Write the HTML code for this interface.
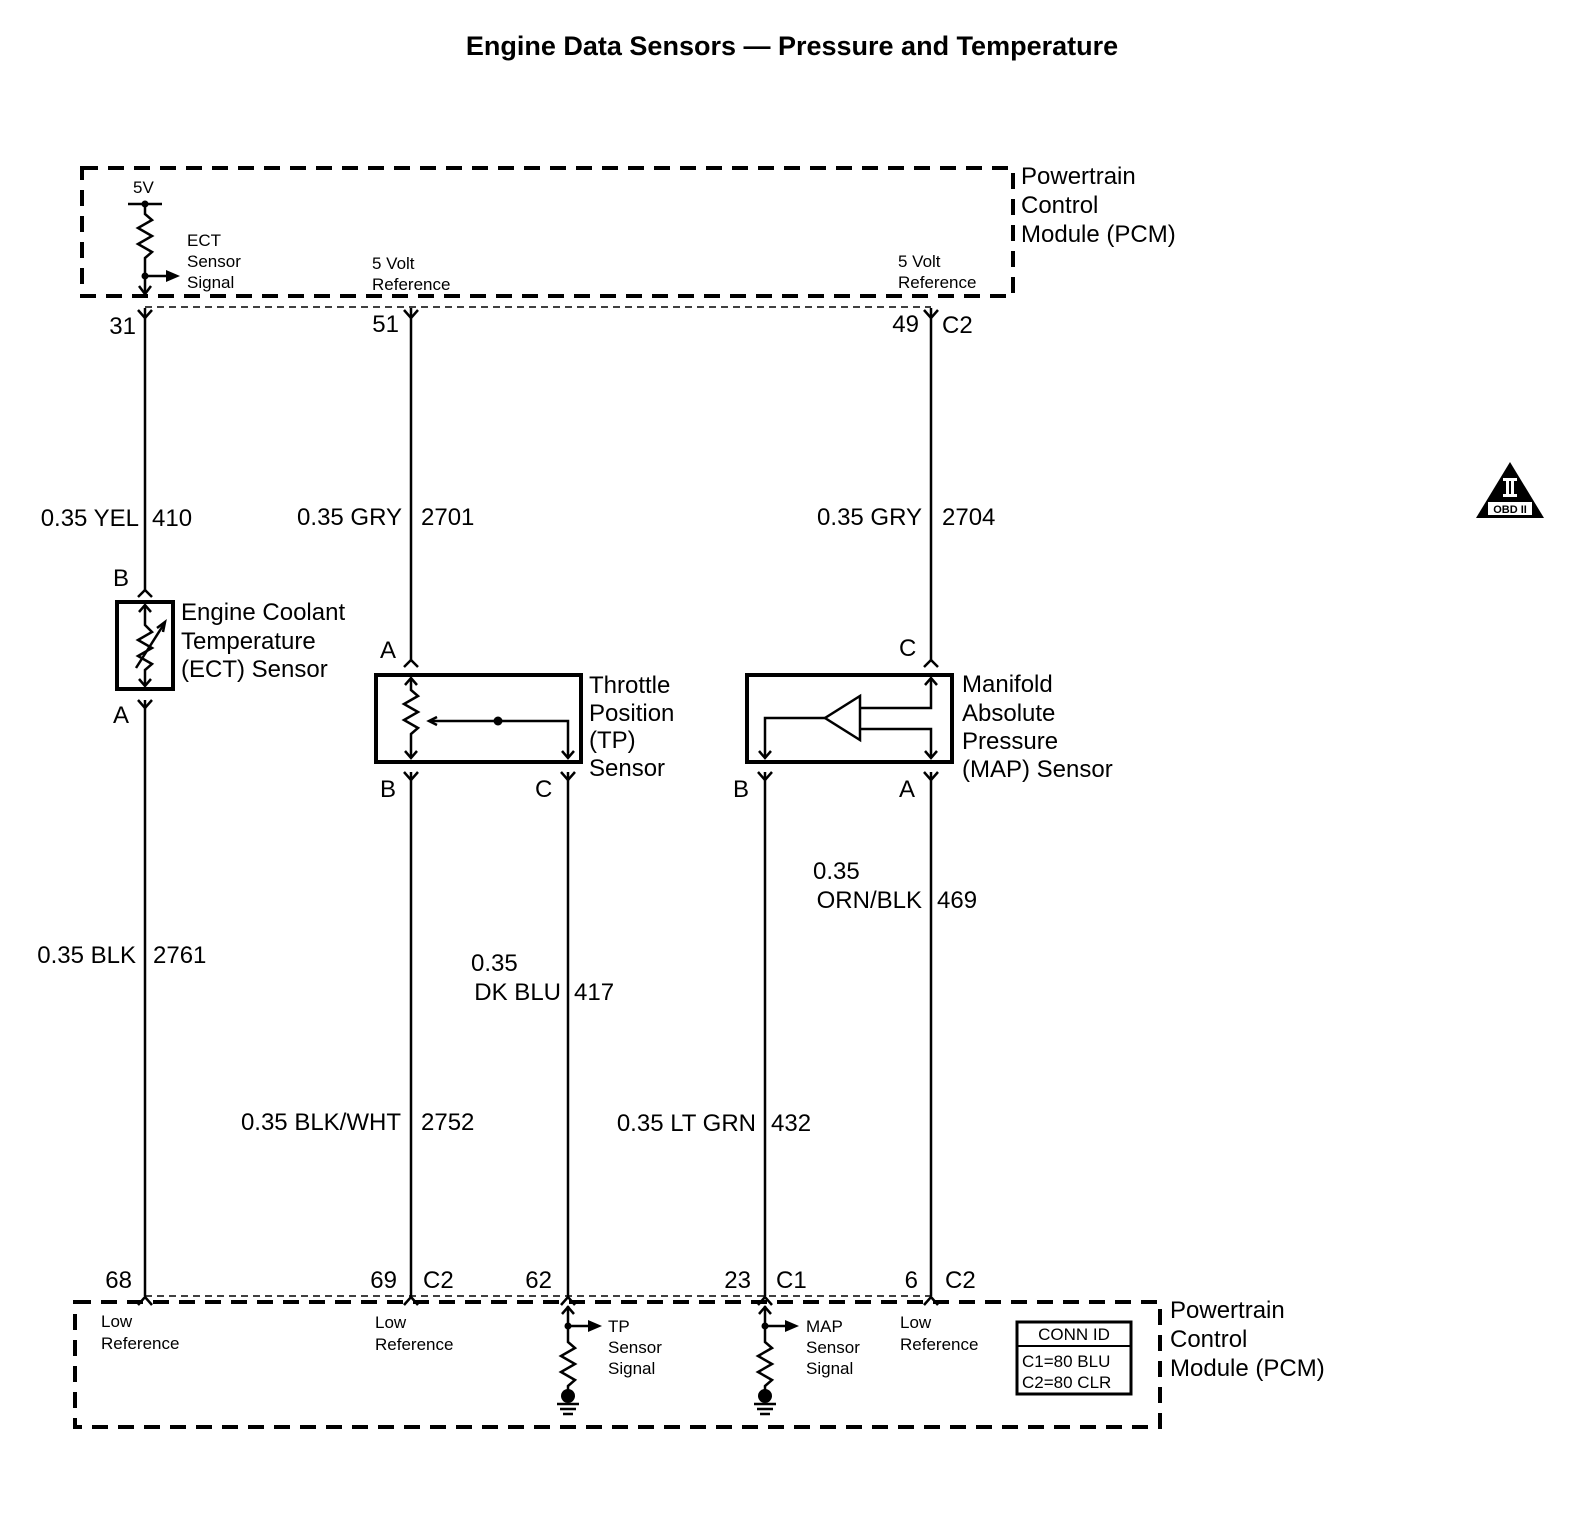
<!DOCTYPE html>
<html><head><meta charset="utf-8"><style>
html,body{margin:0;padding:0;background:#fff;}
svg{display:block;}
text{font-family:"Liberation Sans",Arial,sans-serif;fill:#000;}
.l{font-size:24px;}
.s{font-size:17px;}
</style></head><body>
<svg width="1584" height="1536" viewBox="0 0 1584 1536" xmlns="http://www.w3.org/2000/svg">
<text x="792" y="55" text-anchor="middle" style="font-size:27px;font-weight:bold">Engine Data Sensors — Pressure and Temperature</text>

<g fill="none" stroke="#000">
<rect x="82" y="168" width="931" height="128" stroke-width="4" stroke-dasharray="16,10"/>
<rect x="75" y="1302" width="1085" height="125" stroke-width="4" stroke-dasharray="16,10"/>
<line x1="145" y1="307" x2="931" y2="307" stroke-width="1.5" stroke-dasharray="7,5"/>
<line x1="145" y1="1296" x2="931" y2="1296" stroke-width="1.5" stroke-dasharray="7,5"/>

<g stroke-width="2.5">
<line x1="145" y1="308" x2="145" y2="590"/>
<line x1="145" y1="700" x2="145" y2="1296"/>
<line x1="411" y1="308" x2="411" y2="660"/>
<line x1="411" y1="772" x2="411" y2="1296"/>
<line x1="568" y1="772" x2="568" y2="1296"/>
<line x1="765" y1="772" x2="765" y2="1296"/>
<line x1="931" y1="308" x2="931" y2="660"/>
<line x1="931" y1="772" x2="931" y2="1296"/>
<path d="M138,310 L145,318 L152,310 M404,310 L411,318 L418,310 M924,310 L931,318 L938,310"/>
<path d="M138,1305 L145,1297 L152,1305 M404,1305 L411,1297 L418,1305 M561,1305 L568,1297 L575,1305 M758,1305 L765,1297 L772,1305 M924,1305 L931,1297 L938,1305"/>
<path d="M138,597 L145,590 L152,597 M404,667 L411,660 L418,667 M924,667 L931,660 L938,667"/>
<path d="M138,700 L145,708 L152,700 M404,772 L411,780 L418,772 M561,772 L568,780 L575,772 M758,772 L765,780 L772,772 M924,772 L931,780 L938,772"/>
</g>

<g stroke-width="2.5">
<line x1="128" y1="204" x2="162" y2="204"/>
<path d="M145,204 L145,214 L152,220 L138,228 L152,236 L138,244 L152,252 L145,258 L145,294"/>
<path d="M139,286 L145,294 L151,286"/>
<line x1="145" y1="276" x2="168" y2="276"/>
</g>
<polygon points="166,270 180,276 166,282" fill="#000" stroke="none"/>
<circle cx="145" cy="204" r="3.5" fill="#000" stroke="none"/>
<circle cx="145" cy="276" r="3.5" fill="#000" stroke="none"/>

<rect x="117" y="602" width="56" height="87" stroke-width="4"/>
<g stroke-width="2.5">
<path d="M145,605 L145,625 L152,632 L138,640 L152,648 L138,656 L152,664 L145,670 L145,686"/>
<path d="M139,612 L145,605 L151,612 M139,679 L145,686 L151,679"/>
<path d="M136,668 L164,624"/>
<path d="M157,628 L165,622 L163,632"/>
</g>

<rect x="376" y="675" width="205" height="87" stroke-width="4"/>
<g stroke-width="2.5">
<path d="M411,678 L411,690 L418,696 L404,704 L418,712 L404,720 L418,728 L411,734 L411,758"/>
<path d="M405,685 L411,678 L417,685 M405,751 L411,758 L417,751"/>
<path d="M430,721 L568,721 L568,758"/>
<path d="M562,751 L568,758 L574,751"/>
<path d="M437,717 L429,721 L437,725"/>
</g>
<circle cx="498" cy="721" r="4.5" fill="#000" stroke="none"/>

<rect x="747" y="675" width="205" height="87" stroke-width="4"/>
<g stroke-width="2.5">
<path d="M931,678 L931,708 L860,708"/>
<path d="M860,729 L931,729 L931,758"/>
<path d="M925,685 L931,678 L937,685 M925,751 L931,758 L937,751"/>
<polygon points="860,696 860,740 825,718"/>
<path d="M825,718 L765,718 L765,758"/>
<path d="M759,751 L765,758 L771,751"/>
</g>

<g stroke-width="2.5">
<path d="M568,1306 L568,1342 L575,1348 L561,1356 L575,1364 L561,1372 L575,1380 L568,1386 L568,1396"/>
<path d="M562,1314 L568,1307 L574,1314"/>
<line x1="568" y1="1326" x2="590" y2="1326"/>
<path d="M765,1306 L765,1342 L772,1348 L758,1356 L772,1364 L758,1372 L772,1380 L765,1386 L765,1396"/>
<path d="M759,1314 L765,1307 L771,1314"/>
<line x1="765" y1="1326" x2="787" y2="1326"/>
<path d="M557,1404 L579,1404 M560,1409 L576,1409 M563,1414 L573,1414"/>
<path d="M754,1404 L776,1404 M757,1409 L773,1409 M760,1414 L770,1414"/>
</g>
<rect x="1017" y="1322" width="114" height="72" stroke-width="3"/>
<line x1="1017" y1="1346" x2="1131" y2="1346" stroke-width="2"/>
</g>
<g fill="#000">
<polygon points="588,1320 602,1326 588,1332"/>
<polygon points="785,1320 799,1326 785,1332"/>
<circle cx="568" cy="1326" r="3.5"/><circle cx="765" cy="1326" r="3.5"/>
<circle cx="568" cy="1396" r="7"/><circle cx="765" cy="1396" r="7"/>
</g>

<polygon points="1510,462 1476,518 1544,518" fill="#000"/>
<rect x="1503" y="478" width="14" height="3" fill="#fff"/>
<rect x="1503" y="494" width="14" height="3" fill="#fff"/>
<rect x="1506" y="480" width="3" height="15" fill="#fff"/>
<rect x="1511" y="480" width="3" height="15" fill="#fff"/>
<rect x="1488" y="502" width="44" height="13" fill="#fff"/>
<text x="1510" y="513" text-anchor="middle" style="font-size:11px;font-weight:bold">OBD II</text>

<text class="s" x="133" y="193">5V</text>
<text class="s" x="187" y="246">ECT</text>
<text class="s" x="187" y="267">Sensor</text>
<text class="s" x="187" y="288">Signal</text>
<text class="s" x="372" y="269">5 Volt</text>
<text class="s" x="372" y="290">Reference</text>
<text class="s" x="898" y="267">5 Volt</text>
<text class="s" x="898" y="288">Reference</text>
<text class="l" x="1021" y="184">Powertrain</text>
<text class="l" x="1021" y="213">Control</text>
<text class="l" x="1021" y="242">Module (PCM)</text>

<text class="l" x="136" y="334" text-anchor="end">31</text>
<text class="l" x="399" y="332" text-anchor="end">51</text>
<text class="l" x="919" y="332" text-anchor="end">49</text>
<text class="l" x="942" y="333">C2</text>

<text class="l" x="139" y="526" text-anchor="end">0.35 YEL</text>
<text class="l" x="152" y="526">410</text>
<text class="l" x="402" y="525" text-anchor="end">0.35 GRY</text>
<text class="l" x="421" y="525">2701</text>
<text class="l" x="922" y="525" text-anchor="end">0.35 GRY</text>
<text class="l" x="942" y="525">2704</text>

<text class="l" x="113" y="586">B</text>
<text class="l" x="113" y="723">A</text>
<text class="l" x="181" y="620">Engine Coolant</text>
<text class="l" x="181" y="649">Temperature</text>
<text class="l" x="181" y="677">(ECT) Sensor</text>

<text class="l" x="380" y="658">A</text>
<text class="l" x="380" y="797">B</text>
<text class="l" x="535" y="797">C</text>
<text class="l" x="589" y="693">Throttle</text>
<text class="l" x="589" y="721">Position</text>
<text class="l" x="589" y="748">(TP)</text>
<text class="l" x="589" y="776">Sensor</text>

<text class="l" x="899" y="656">C</text>
<text class="l" x="733" y="797">B</text>
<text class="l" x="899" y="797">A</text>
<text class="l" x="962" y="692">Manifold</text>
<text class="l" x="962" y="721">Absolute</text>
<text class="l" x="962" y="749">Pressure</text>
<text class="l" x="962" y="777">(MAP) Sensor</text>

<text class="l" x="813" y="879">0.35</text>
<text class="l" x="922" y="908" text-anchor="end">ORN/BLK</text>
<text class="l" x="937" y="908">469</text>
<text class="l" x="136" y="963" text-anchor="end">0.35 BLK</text>
<text class="l" x="153" y="963">2761</text>
<text class="l" x="471" y="971">0.35</text>
<text class="l" x="561" y="1000" text-anchor="end">DK BLU</text>
<text class="l" x="574" y="1000">417</text>
<text class="l" x="401" y="1130" text-anchor="end">0.35 BLK/WHT</text>
<text class="l" x="421" y="1130">2752</text>
<text class="l" x="756" y="1131" text-anchor="end">0.35 LT GRN</text>
<text class="l" x="771" y="1131">432</text>

<text class="l" x="132" y="1288" text-anchor="end">68</text>
<text class="l" x="397" y="1288" text-anchor="end">69</text>
<text class="l" x="423" y="1288">C2</text>
<text class="l" x="552" y="1288" text-anchor="end">62</text>
<text class="l" x="751" y="1288" text-anchor="end">23</text>
<text class="l" x="776" y="1288">C1</text>
<text class="l" x="918" y="1288" text-anchor="end">6</text>
<text class="l" x="945" y="1288">C2</text>

<text class="s" x="101" y="1327">Low</text>
<text class="s" x="101" y="1349">Reference</text>
<text class="s" x="375" y="1328">Low</text>
<text class="s" x="375" y="1350">Reference</text>
<text class="s" x="900" y="1328">Low</text>
<text class="s" x="900" y="1350">Reference</text>
<text class="s" x="608" y="1332">TP</text>
<text class="s" x="608" y="1353">Sensor</text>
<text class="s" x="608" y="1374">Signal</text>
<text class="s" x="806" y="1332">MAP</text>
<text class="s" x="806" y="1353">Sensor</text>
<text class="s" x="806" y="1374">Signal</text>
<text class="s" x="1074" y="1340" text-anchor="middle">CONN ID</text>
<text class="s" x="1022" y="1367">C1=80 BLU</text>
<text class="s" x="1022" y="1388">C2=80 CLR</text>
<text class="l" x="1170" y="1318">Powertrain</text>
<text class="l" x="1170" y="1347">Control</text>
<text class="l" x="1170" y="1376">Module (PCM)</text>
</svg>
</body></html>
